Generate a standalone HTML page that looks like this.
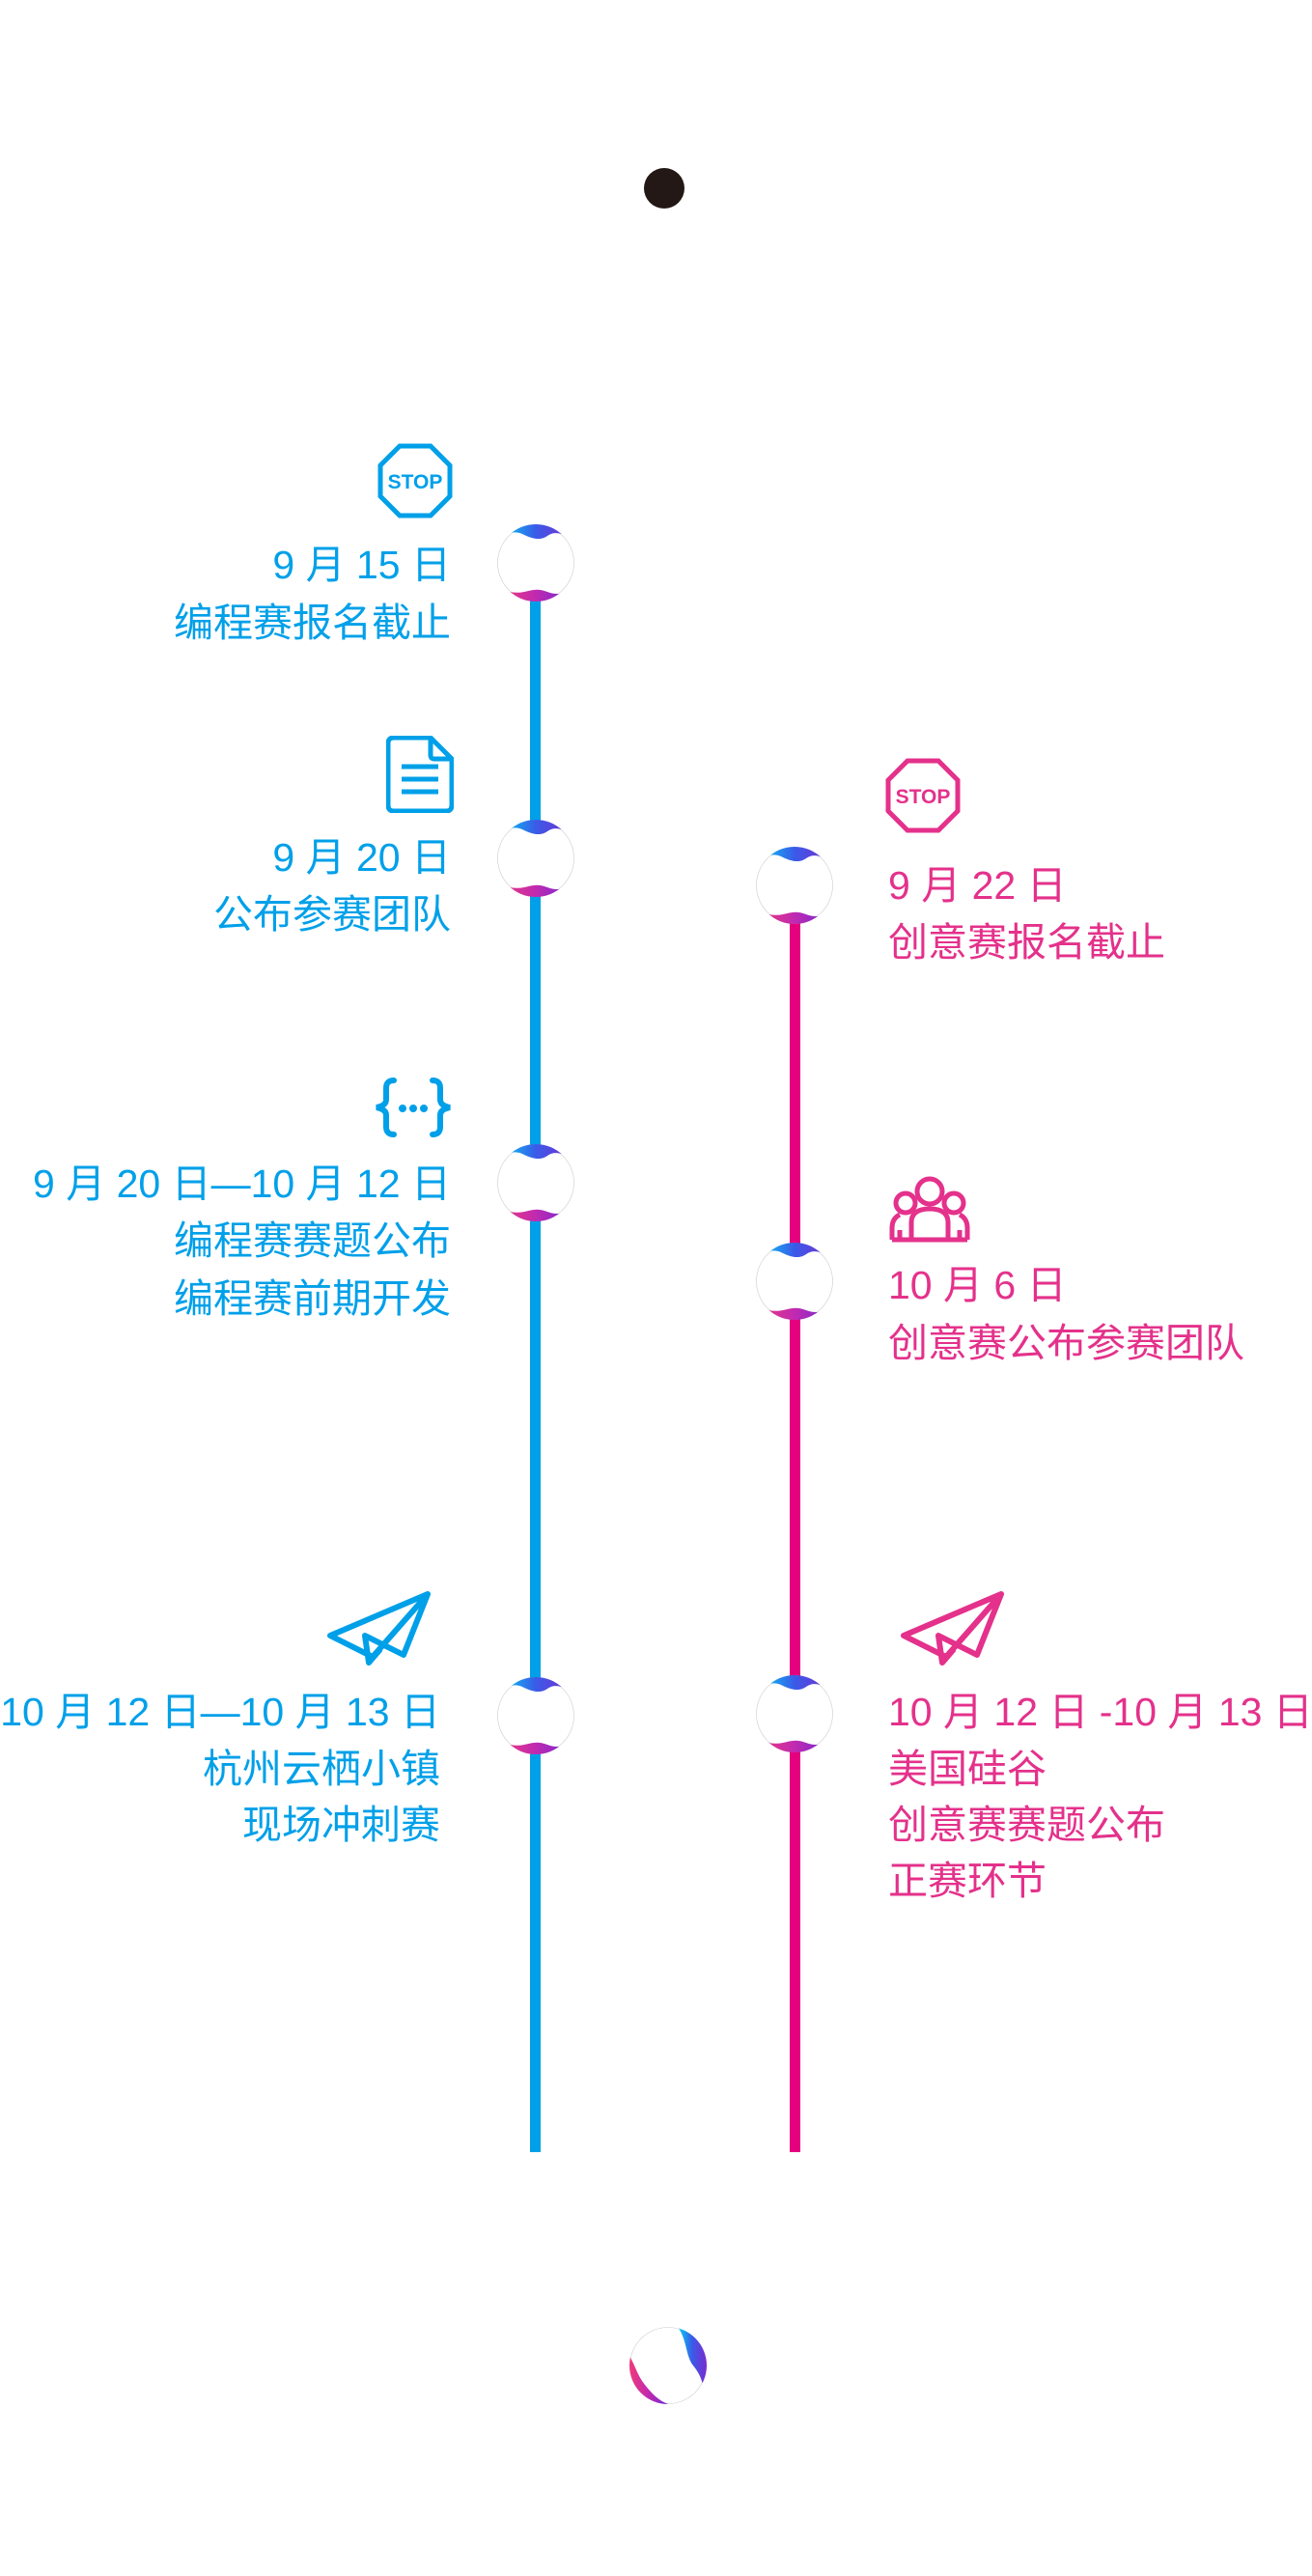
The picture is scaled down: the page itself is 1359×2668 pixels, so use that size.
<!DOCTYPE html>
<html><head><meta charset="utf-8"><style>
html,body{margin:0;padding:0;background:#fff;}
body{width:1359px;height:2668px;position:relative;overflow:hidden;font-family:"Liberation Sans","Noto Sans CJK SC",sans-serif;}
.t{position:absolute;font-size:41px;line-height:60px;white-space:nowrap;}
.b{color:#00a0e9;right:892px;text-align:right;}
.p{color:#e4318b;left:920px;}
.abs{position:absolute;}
</style></head><body>
<svg width="0" height="0" style="position:absolute">
<defs>
<linearGradient id="gt" x1="0" y1="0" x2="1" y2="0"><stop offset="0" stop-color="#00d4f5"/><stop offset="0.5" stop-color="#3a5be8"/><stop offset="1" stop-color="#7a2bd0"/></linearGradient>
<linearGradient id="gb" x1="0" y1="0" x2="1" y2="0"><stop offset="0" stop-color="#f03a7a"/><stop offset="0.5" stop-color="#c02ab0"/><stop offset="1" stop-color="#6a2ad8"/></linearGradient>
<clipPath id="cc"><circle cx="40" cy="40" r="40"/></clipPath>
<symbol id="ball" viewBox="0 0 80 80">
<circle cx="40" cy="40" r="39.5" fill="#fff" stroke="#ccc" stroke-width="0.6"/>
<g clip-path="url(#cc)">
<path d="M0 0H80V18C70 10 60 6 52 12C44 18 34 14 26 10C16 6 8 10 2 18Z" fill="url(#gt)"/>
<path d="M0 80H80V64C72 72 62 74 52 70C42 66 36 68 28 70C18 72 8 70 2 64Z" fill="url(#gb)"/>
</g>
</symbol>
<symbol id="ball2" viewBox="0 0 80 80">
<circle cx="40" cy="40" r="39.5" fill="#fff" stroke="#ccc" stroke-width="0.6"/>
<g clip-path="url(#cc)">
<path d="M50 0H80V80H78C78 60 74 50 66 40C58 30 60 14 50 0Z" fill="url(#gt)"/>
<path d="M0 30C6 40 8 50 16 60C24 70 30 76 40 80H0Z" fill="url(#gb)"/>
</g>
</symbol>
</defs></svg>

<div class="abs" style="left:667px;top:174px;width:42px;height:42px;border-radius:50%;background:#231815"></div>

<div class="abs" style="left:549px;top:583px;width:11px;height:1646px;background:#00a0e9"></div>
<div class="abs" style="left:818px;top:917px;width:11px;height:1312px;background:#e4007f"></div>

<svg class="abs" style="left:515px;top:543px" width="80" height="80"><use href="#ball"/></svg>
<svg class="abs" style="left:515px;top:849px" width="80" height="80"><use href="#ball"/></svg>
<svg class="abs" style="left:515px;top:1185px" width="80" height="80"><use href="#ball"/></svg>
<svg class="abs" style="left:515px;top:1737px" width="80" height="80"><use href="#ball"/></svg>
<svg class="abs" style="left:783px;top:877px" width="80" height="80"><use href="#ball"/></svg>
<svg class="abs" style="left:783px;top:1287px" width="80" height="80"><use href="#ball"/></svg>
<svg class="abs" style="left:783px;top:1735px" width="80" height="80"><use href="#ball"/></svg>
<svg class="abs" style="left:652px;top:2410px" width="80" height="80"><use href="#ball2"/></svg>

<!-- icons -->
<svg class="abs" style="left:391px;top:459px" width="78" height="78" viewBox="0 0 78 78"><polygon points="23,3 55,3 75,23 75,55 55,75 23,75 3,55 3,23" fill="none" stroke="#00a0e9" stroke-width="5"/><text x="39" y="47" text-anchor="middle" font-family="Liberation Sans" font-weight="bold" font-size="21" fill="#00a0e9">STOP</text></svg>
<svg class="abs" style="left:400px;top:762px" width="70" height="80" viewBox="0 0 70 80"><path d="M8 2H46L68 24V72Q68 78 62 78H8Q2 78 2 72V8Q2 2 8 2Z" fill="none" stroke="#00a0e9" stroke-width="5"/><path d="M46 2V20Q46 24 50 24H68" fill="none" stroke="#00a0e9" stroke-width="5"/><path d="M16 32H54M16 45H54M16 58H54" stroke="#00a0e9" stroke-width="5"/></svg>
<svg class="abs" style="left:386px;top:1115px" width="84" height="64" viewBox="0 0 84 64"><g fill="none" stroke="#00a0e9" stroke-width="6" stroke-linecap="round"><path d="M22 4Q14 4 14 12V24Q14 30 4 32Q14 34 14 40V52Q14 60 22 60"/><path d="M62 4Q70 4 70 12V24Q70 30 80 32Q70 34 70 40V52Q70 60 62 60"/></g><g fill="#00a0e9"><circle cx="31" cy="33" r="4"/><circle cx="42" cy="33" r="4"/><circle cx="53" cy="33" r="4"/></g></svg>
<svg class="abs" style="left:338px;top:1648px" width="110" height="78" viewBox="0 0 110 78"><path d="M105 3L4 46L48 68L105 3L80 66L40 46L44 74L56 60" fill="none" stroke="#00a0e9" stroke-width="6" stroke-linejoin="round"/></svg>
<svg class="abs" style="left:917px;top:785px" width="78" height="78" viewBox="0 0 78 78"><polygon points="23,3 55,3 75,23 75,55 55,75 23,75 3,55 3,23" fill="none" stroke="#e4318b" stroke-width="5"/><text x="39" y="47" text-anchor="middle" font-family="Liberation Sans" font-weight="bold" font-size="21" fill="#e4318b">STOP</text></svg>
<svg class="abs" style="left:920px;top:1218px" width="86" height="72" viewBox="0 0 86 72"><g fill="none" stroke="#e4318b" stroke-width="5"><circle cx="43" cy="16" r="13"/><circle cx="18" cy="28" r="10"/><circle cx="68" cy="28" r="10"/><path d="M24 66V48Q24 34 43 34Q62 34 62 48V66"/><path d="M4 66V54Q4 44 12 40M82 66V54Q82 44 74 40"/><path d="M4 66H82M12 56V66M74 56V66"/></g></svg>
<svg class="abs" style="left:932px;top:1648px" width="110" height="78" viewBox="0 0 110 78"><path d="M105 3L4 46L48 68L105 3L80 66L40 46L44 74L56 60" fill="none" stroke="#e4318b" stroke-width="6" stroke-linejoin="round"/></svg>

<!-- blue text -->
<div class="t b" style="top:555px">9 月 15 日</div>
<div class="t b" style="top:615px">编程赛报名截止</div>
<div class="t b" style="top:858px">9 月 20 日</div>
<div class="t b" style="top:917px">公布参赛团队</div>
<div class="t b" style="top:1196px">9 月 20 日—10 月 12 日</div>
<div class="t b" style="top:1255px">编程赛赛题公布</div>
<div class="t b" style="top:1315px">编程赛前期开发</div>
<div class="t b" style="top:1743px;right:903px">10 月 12 日—10 月 13 日</div>
<div class="t b" style="top:1802px;right:903px">杭州云栖小镇</div>
<div class="t b" style="top:1860px;right:903px">现场冲刺赛</div>

<!-- pink text -->
<div class="t p" style="top:887px">9 月 22 日</div>
<div class="t p" style="top:946px">创意赛报名截止</div>
<div class="t p" style="top:1301px">10 月 6 日</div>
<div class="t p" style="top:1361px">创意赛公布参赛团队</div>
<div class="t p" style="top:1743px">10 月 12 日 -10 月 13 日</div>
<div class="t p" style="top:1802px">美国硅谷</div>
<div class="t p" style="top:1860px">创意赛赛题公布</div>
<div class="t p" style="top:1918px">正赛环节</div>
</body></html>
